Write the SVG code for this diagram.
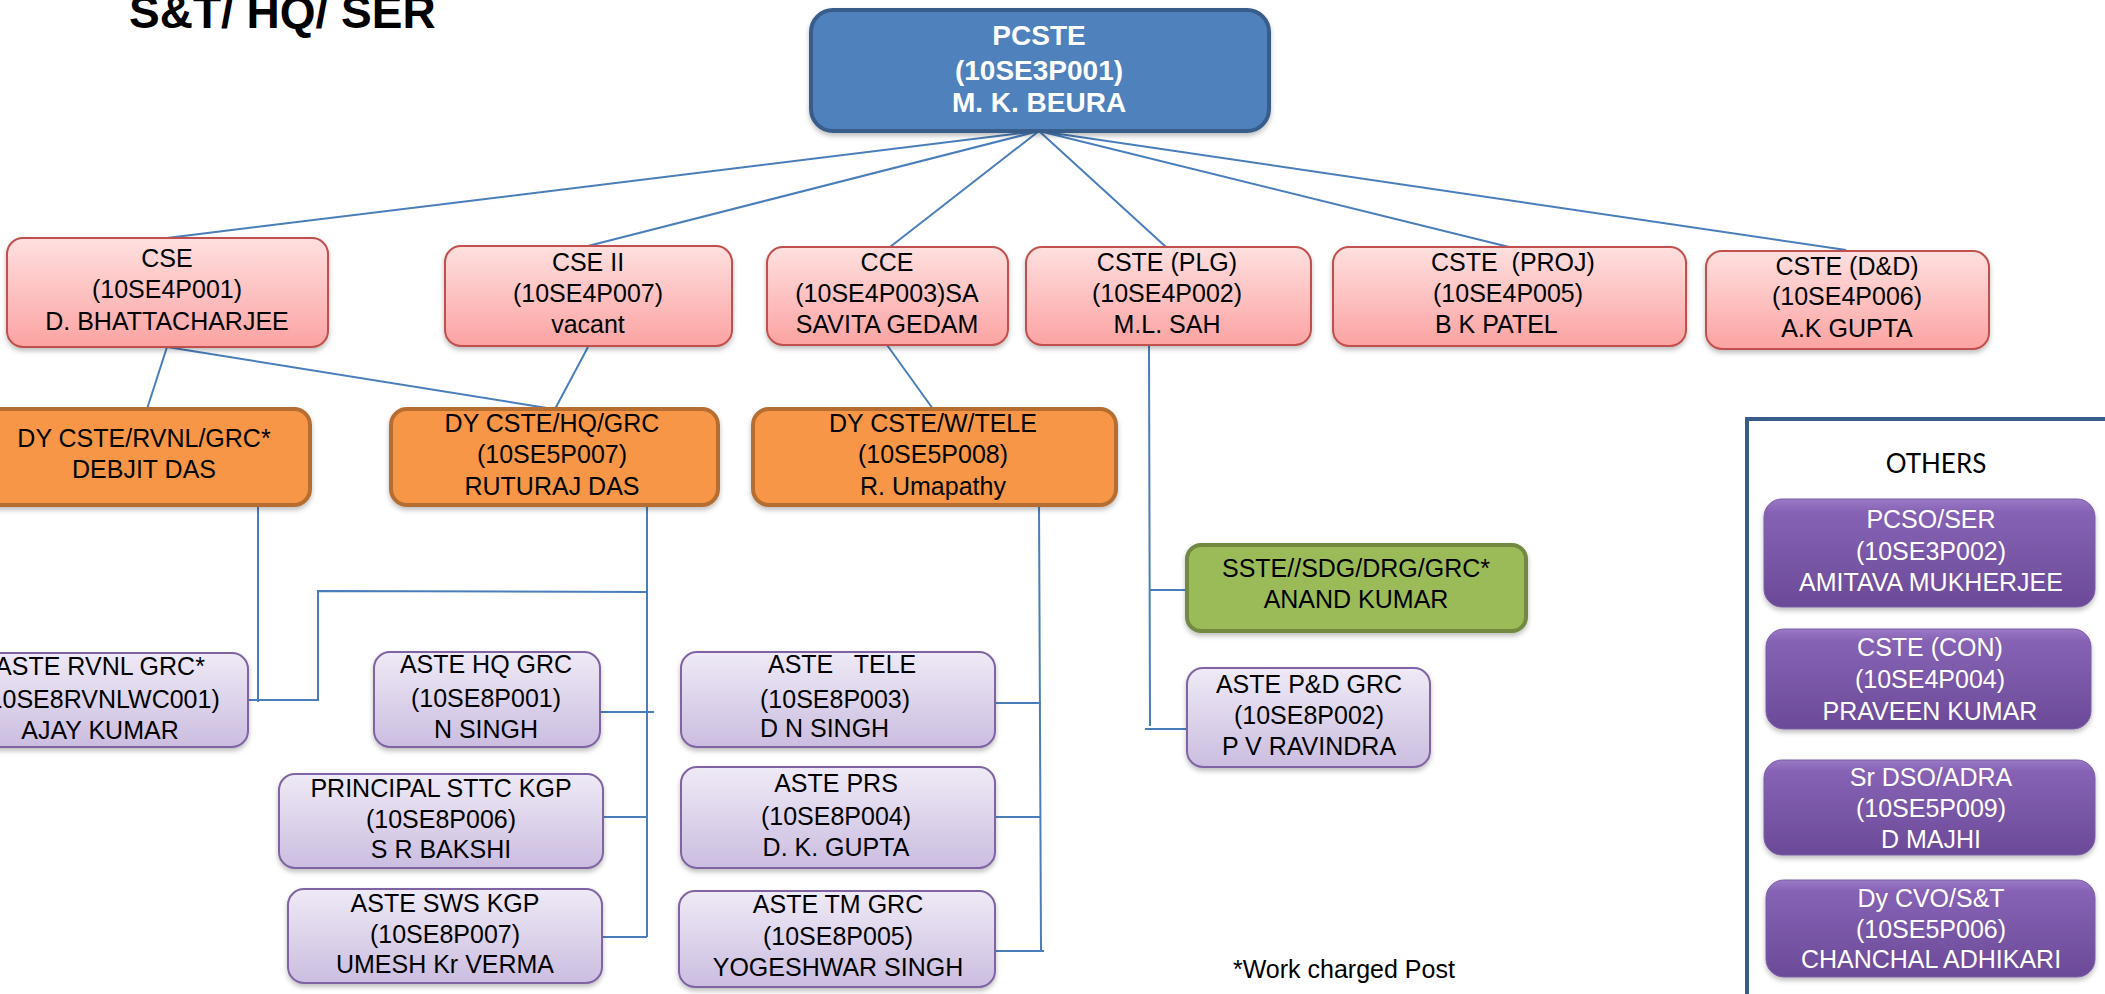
<svg xmlns="http://www.w3.org/2000/svg" width="2105" height="994" viewBox="0 0 2105 994">
<defs>
<linearGradient id="gRed" x1="0" y1="0" x2="0" y2="1"><stop offset="0" stop-color="#FFE0E0"/><stop offset="1" stop-color="#FBA3A2"/></linearGradient>
<linearGradient id="gLav" x1="0" y1="0" x2="0" y2="1"><stop offset="0" stop-color="#EFEAF6"/><stop offset="1" stop-color="#CBBDE0"/></linearGradient>
<linearGradient id="gPur" x1="0" y1="0" x2="0" y2="1"><stop offset="0" stop-color="#9A79C6"/><stop offset="0.12" stop-color="#8662B4"/><stop offset="1" stop-color="#6B4A98"/></linearGradient>
<filter id="sh" x="-10%" y="-10%" width="120%" height="130%"><feDropShadow dx="0" dy="3" stdDeviation="2.5" flood-color="#000" flood-opacity="0.25"/></filter>
</defs>
<style>
text{font-family:"Liberation Sans",Arial,sans-serif;font-size:25px;fill:#000;text-anchor:middle}
.l{text-anchor:start}
.w{fill:#fff}
.b{font-weight:bold;font-size:28px}
.red{fill:url(#gRed);stroke:#C0504D;stroke-width:2;filter:url(#sh)}
.org{fill:#F79646;stroke:#B66D31;stroke-width:4;filter:url(#sh)}
.grn{fill:#9BBB59;stroke:#71893F;stroke-width:4;filter:url(#sh)}
.lav{fill:url(#gLav);stroke:#8064A2;stroke-width:2;filter:url(#sh)}
.pur{fill:url(#gPur);stroke:#7B5CA5;stroke-width:1;filter:url(#sh)}
.con path{fill:none;stroke:#4A7EBB;stroke-width:2}
</style>
<rect width="2105" height="994" fill="#fff"/>
<text id="title" x="129" y="28" class="l" style="font-weight:bold;font-size:46px">S&amp;T/ HQ/ SER</text>

<g id="connectors" class="con">
<path d="M1039,131 L167,238 M1039,131 L588,246 M1039,131 L890,247 M1039,131 L1166,247 M1039,131 L1509,247 M1039,131 L1846,250"/>
<path d="M167,347 L147,409 M167,347 L553,409 M588,347 L555,409 M887,345 L933,409"/>
<path d="M1149,345 L1150,726 M1149,590 L1187,590 M1145,729 L1190,729"/>
<path d="M258,502 L258,702 M248,700 L318,700 L318,591 L647,592"/>
<path d="M647,502 L647,937 M597,712 L654,712 M600,817 L647,817 M603,937 L647,937"/>
<path d="M1039,502 L1041,951 M995,703 L1041,703 M995,817 L1041,817 M995,951 L1044,951"/>
</g>

<g id="pcste"><rect x="811" y="10" width="458" height="121" rx="22" fill="#4F81BD" stroke="#385D8A" stroke-width="4" filter="url(#sh)"/>
<text x="1039" y="45" class="w b">PCSTE</text><text x="1039" y="80" class="w b">(10SE3P001)</text><text x="1039" y="112" class="w b">M. K. BEURA</text></g>

<g id="cse"><rect class="red" x="7" y="238" width="321" height="109" rx="16"/>
<text x="167" y="267">CSE</text><text x="167" y="298">(10SE4P001)</text><text x="167" y="330">D. BHATTACHARJEE</text></g>
<g id="cse2"><rect class="red" x="445" y="246" width="287" height="100" rx="16"/>
<text x="588" y="271">CSE II</text><text x="588" y="302">(10SE4P007)</text><text x="588" y="333">vacant</text></g>
<g id="cce"><rect class="red" x="767" y="247" width="241" height="98" rx="16"/>
<text x="887" y="271">CCE</text><text x="887" y="302">(10SE4P003)SA</text><text x="887" y="333">SAVITA GEDAM</text></g>
<g id="cste-plg"><rect class="red" x="1026" y="247" width="285" height="98" rx="16"/>
<text x="1167" y="271">CSTE (PLG)</text><text x="1167" y="302">(10SE4P002)</text><text x="1167" y="333">M.L. SAH</text></g>
<g id="cste-proj"><rect class="red" x="1333" y="247" width="353" height="99" rx="16"/>
<text x="1431" y="271" class="l" xml:space="preserve">CSTE  (PROJ)</text><text x="1433" y="302" class="l">(10SE4P005)</text><text x="1435" y="333" class="l">B K PATEL</text></g>
<g id="cste-dd"><rect class="red" x="1706" y="251" width="283" height="98" rx="16"/>
<text x="1847" y="275">CSTE (D&amp;D)</text><text x="1847" y="305">(10SE4P006)</text><text x="1847" y="337">A.K GUPTA</text></g>

<g id="dy-rvnl"><rect class="org" x="-22" y="409" width="332" height="96" rx="16"/>
<text x="144" y="447">DY CSTE/RVNL/GRC*</text><text x="144" y="478">DEBJIT DAS</text></g>
<g id="dy-hq"><rect class="org" x="391" y="409" width="327" height="96" rx="16"/>
<text x="552" y="432">DY CSTE/HQ/GRC</text><text x="552" y="463">(10SE5P007)</text><text x="552" y="495">RUTURAJ DAS</text></g>
<g id="dy-tele"><rect class="org" x="753" y="409" width="363" height="96" rx="16"/>
<text x="933" y="432">DY CSTE/W/TELE</text><text x="933" y="463">(10SE5P008)</text><text x="933" y="495">R. Umapathy</text></g>

<g id="sste"><rect class="grn" x="1187" y="545" width="339" height="86" rx="14"/>
<text x="1356" y="577">SSTE//SDG/DRG/GRC*</text><text x="1356" y="608">ANAND KUMAR</text></g>

<g id="aste-rvnl"><rect class="lav" x="-48" y="653" width="296" height="94" rx="16"/>
<text x="100" y="675">ASTE RVNL GRC*</text><text x="100" y="708">(10SE8RVNLWC001)</text><text x="100" y="739">AJAY KUMAR</text></g>
<g id="aste-hq"><rect class="lav" x="374" y="652" width="226" height="95" rx="16"/>
<text x="486" y="673">ASTE HQ GRC</text><text x="486" y="707">(10SE8P001)</text><text x="486" y="738">N SINGH</text></g>
<g id="principal"><rect class="lav" x="279" y="774" width="324" height="94" rx="16"/>
<text x="441" y="797">PRINCIPAL STTC KGP</text><text x="441" y="828">(10SE8P006)</text><text x="441" y="858">S R BAKSHI</text></g>
<g id="aste-sws"><rect class="lav" x="288" y="889" width="314" height="94" rx="16"/>
<text x="445" y="912">ASTE SWS KGP</text><text x="445" y="943">(10SE8P007)</text><text x="445" y="973">UMESH Kr VERMA</text></g>
<g id="aste-tele"><rect class="lav" x="681" y="652" width="314" height="95" rx="16"/>
<text x="768" y="673" class="l" xml:space="preserve">ASTE   TELE</text><text x="760" y="708" class="l">(10SE8P003)</text><text x="760" y="737" class="l">D N SINGH</text></g>
<g id="aste-prs"><rect class="lav" x="681" y="767" width="314" height="101" rx="16"/>
<text x="836" y="792">ASTE PRS</text><text x="836" y="825">(10SE8P004)</text><text x="836" y="856">D. K. GUPTA</text></g>
<g id="aste-tm"><rect class="lav" x="679" y="891" width="316" height="96" rx="16"/>
<text x="838" y="913">ASTE TM GRC</text><text x="838" y="945">(10SE8P005)</text><text x="838" y="976">YOGESHWAR SINGH</text></g>
<g id="aste-pd"><rect class="lav" x="1187" y="668" width="243" height="99" rx="16"/>
<text x="1309" y="693">ASTE P&amp;D GRC</text><text x="1309" y="724">(10SE8P002)</text><text x="1309" y="755">P V RAVINDRA</text></g>

<text id="footnote" x="1233" y="978" class="l">*Work charged Post</text>

<g id="others">
<rect x="1747" y="419" width="420" height="600" fill="#fff" stroke="#385D8A" stroke-width="4"/>
<text x="1936" y="473" style="font-family:Lato,'Liberation Sans',sans-serif;font-size:26px">OTHERS</text>
<g id="pcso"><rect class="pur" x="1764" y="499" width="331" height="108" rx="18"/>
<text x="1931" y="528" class="w">PCSO/SER</text><text x="1931" y="560" class="w">(10SE3P002)</text><text x="1931" y="591" class="w">AMITAVA MUKHERJEE</text></g>
<g id="cste-con"><rect class="pur" x="1766" y="629" width="325" height="100" rx="18"/>
<text x="1930" y="656" class="w">CSTE (CON)</text><text x="1930" y="688" class="w">(10SE4P004)</text><text x="1930" y="720" class="w">PRAVEEN KUMAR</text></g>
<g id="srdso"><rect class="pur" x="1764" y="760" width="331" height="95" rx="18"/>
<text x="1931" y="786" class="w">Sr DSO/ADRA</text><text x="1931" y="817" class="w">(10SE5P009)</text><text x="1931" y="848" class="w">D MAJHI</text></g>
<g id="dycvo"><rect class="pur" x="1766" y="880" width="329" height="97" rx="18"/>
<text x="1931" y="907" class="w">Dy CVO/S&amp;T</text><text x="1931" y="938" class="w">(10SE5P006)</text><text x="1931" y="968" class="w">CHANCHAL ADHIKARI</text></g>
</g>
</svg>
